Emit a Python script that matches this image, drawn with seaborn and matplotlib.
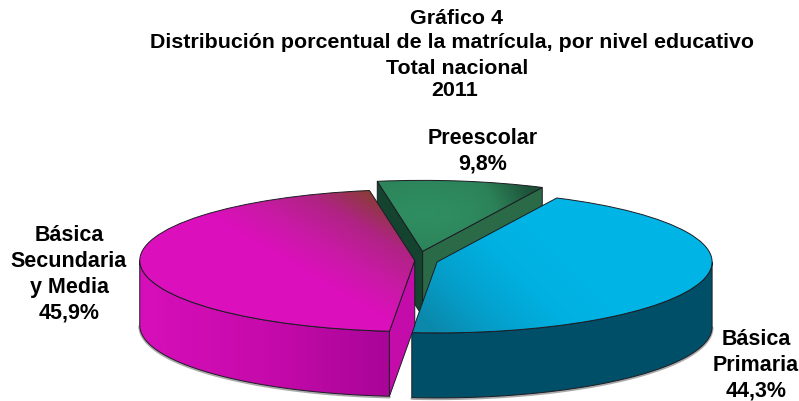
import numpy as np
import matplotlib
matplotlib.use("Agg")
import matplotlib.pyplot as plt
from matplotlib.patches import Polygon
import seaborn as sns

categorias = ["Básica\nPrimaria", "Básica\nSecundaria\ny Media", "Preescolar"]
valores = [44.3, 45.9, 9.8]
titulo = ["Gráfico 4", "Distribución porcentual de la matrícula, por nivel educativo",
          "Total nacional", "2011"]

sns.set_theme(style="white")
plt.rcParams["font.family"] = ["Liberation Sans", "DejaVu Sans"]

W, H = 799, 402
CX, CY, A, B, DEPTH = 417.5, 261.5, 275.0, 71.0, 65.0 / 71.0
fig = plt.figure(figsize=(W / 100, H / 100), dpi=100, facecolor="white")
ax = fig.add_axes([0, 0, 1, 1])

wedges, _ = ax.pie(valores, startangle=64.2, counterclock=False, radius=1,
                   explode=[0.074, 0.01, 0.13], colors=["none"] * 3,
                   wedgeprops=dict(edgecolor="#1c1c24", linewidth=0.7))
ax.set_aspect("auto")
xlim = (-CX / A, (W - CX) / A)
ylim = ((CY - H) / B, CY / B)
ax.set_xlim(xlim)
ax.set_ylim(ylim)
ax.axis("off")

px, py = np.meshgrid(np.arange(W) + .5, np.arange(H) + .5)


def fill(field, colors, clip, z):
    cmap = sns.blend_palette(colors, as_cmap=True)
    im = ax.imshow(np.clip(field, 0, 1), cmap=cmap, vmin=0, vmax=1, aspect="auto",
                   extent=(xlim[0], xlim[1], ylim[0], ylim[1]), origin="upper",
                   interpolation="bilinear", zorder=z)
    clip.set_zorder(z + .1)
    im.set_clip_path(clip)


def rim(w, t0, t1, n=80):
    t = np.radians(np.linspace(t0, t1, n))
    cx, cy = w.center
    return np.c_[cx + np.cos(t), cy + np.sin(t)]


def wall(pts, z, colors=None, field=None, color=None):
    low = pts - [0, DEPTH]
    p = Polygon(np.r_[pts, low[::-1]], closed=True, zorder=z + .1,
                facecolor="none" if colors else color, edgecolor="#1c1c24", linewidth=0.7)
    ax.add_patch(p)
    if colors:
        fill(field, colors, p, z)
    return p


def shadow(pts, z):
    low = pts - [0, DEPTH + 0.012]
    ax.plot(low[:, 0], low[:, 1], color="#444444", alpha=0.45, lw=2.0,
            solid_capstyle="round", zorder=z)


primaria, secundaria, preescolar = wedges

# Preescolar: back slice with its two cut faces (angles run negative, clockwise)
c = np.array(preescolar.center)
wall(np.array([c, rim(preescolar, preescolar.theta1, preescolar.theta1, 1)[0]]), 1, color="#2a6a47")
wall(np.array([c, rim(preescolar, preescolar.theta2, preescolar.theta2, 1)[0]]), 1.5, color="#14432f")
f = np.hypot((px - 425) / 130, (py - 215) / 50) * .55 + np.clip((px - 470) / 70, 0, 1) * .55
fill(f, ["#2f8f62", "#2c8258", "#1c5138"], preescolar, 2)

# Primaria
shadow(rim(primaria, primaria.theta1, 0), 2.8)
wall(rim(primaria, primaria.theta1, 0), 3, color="#004f68")
f = ((px - 420) * .7 + (320 - py) * .7) / 150
fill(f, ["#0b88aa", "#05a0cc", "#00b0e0", "#00b5e6"], primaria, 4)

# Secundaria y Media
shadow(rim(secundaria, -180, secundaria.theta2), 4.8)
f = np.clip((px - 140) / 252, 0, 1)
wall(rim(secundaria, -180, secundaria.theta2), 5, ["#d60fba", "#c60aab", "#a80597"], f)
c = np.array(secundaria.center)
wall(np.array([c, rim(secundaria, secundaria.theta2, secundaria.theta2, 1)[0]]), 5.5, color="#c40caa")
f = ((px - 280) * .5 + (270 - py) * .85 - 10) / 100
fill(f, ["#dc0fbc", "#c81aa5", "#b02384", "#8a3c38"], secundaria, 6)

# Text
for x, y, line in zip([457, 451.5, 457, 455], [18, 43, 68, 91], titulo):
    fig.text(x / W, 1 - y / H, line, ha="center", va="center", fontsize=15.4,
             fontweight="bold", color="black")
pct = [f"{v:.1f}".replace(".", ",") + "%" for v in valores]
pos = [(756, 340, 25.5), (69, 236, 25.8), (483, 138, 26)]
for (x, y, step), cat, p in zip(pos, categorias, pct):
    for i, line in enumerate((cat + "\n" + p).split("\n")):
        fig.text(x / W, 1 - (y + i * step) / H, line, ha="center", va="center",
                 fontsize=15.5, fontweight="bold", color="black")

fig.savefig("out.png", dpi=100)
